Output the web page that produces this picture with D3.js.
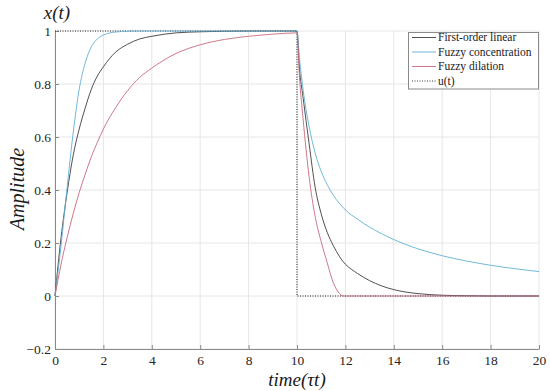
<!DOCTYPE html>
<html>
<head>
<meta charset="utf-8">
<script src="https://cdn.jsdelivr.net/npm/d3@7"></script>
<style>
  body { margin: 0; background: #fff; }
  svg text { font-family: "Liberation Serif", "Times New Roman", Tinos, "DejaVu Serif", "Noto Serif", Times, serif !important; }
</style>
</head>
<body>
<script>
var w = 550;
var h = 391;
var margin = {top: 31, right: 11, bottom: 42, left: 55};

// time samples (rise 0..10, fall 10..20)
var tValues = [0, 0.25, 0.5, 0.75, 1, 1.25, 1.5, 1.75, 2, 2.5, 3, 3.5, 4, 5, 6, 7, 8, 9, 10,
               10.1, 10.25, 10.5, 10.75, 11, 11.25, 11.5, 11.75, 11.9, 12, 12.5, 13, 13.5, 14, 15, 16, 17, 18, 19, 20];

var linearValues = [0, 0.22, 0.39, 0.53, 0.63, 0.71, 0.78, 0.83, 0.865, 0.92, 0.95, 0.97, 0.98, 0.993, 0.997, 0.999, 1, 1, 1,
                    0.86, 0.75, 0.575, 0.41, 0.31, 0.24, 0.19, 0.15, 0.13, 0.12, 0.085, 0.058, 0.038, 0.024, 0.009, 0.003, 0.001, 0, 0, 0];

var concValues = [0, 0.19, 0.41, 0.615, 0.78, 0.88, 0.94, 0.97, 0.985, 0.996, 0.999, 1, 1, 1, 1, 1, 1, 1, 1,
                  0.9, 0.78, 0.64, 0.54, 0.47, 0.42, 0.38, 0.35, 0.335, 0.325, 0.29, 0.26, 0.235, 0.213, 0.178, 0.152, 0.132, 0.116, 0.103, 0.092];

var dilValues = [0, 0.12, 0.22, 0.31, 0.39, 0.46, 0.525, 0.58, 0.63, 0.71, 0.775, 0.825, 0.86, 0.915, 0.948, 0.968, 0.98, 0.988, 0.993,
                 0.83, 0.67, 0.45, 0.3, 0.205, 0.125, 0.05, 0.01, 0, 0, 0, 0, 0, 0, 0, 0, 0, 0, 0, 0];

var stepT = [0, 10, 10, 20];
var stepU = [1, 1, 0, 0];

var xTicks = [0, 2, 4, 6, 8, 10, 12, 14, 16, 18, 20];
var yTicks = [-0.2, 0, 0.2, 0.4, 0.6, 0.8, 1];

var legendNames = ["First-order linear", "Fuzzy concentration", "Fuzzy dilation", "u(t)"];

var colors = ["#3c3c3c", "#62b0d4", "#c8697c", "#222"];
var serif = "'Liberation Serif', 'Times New Roman', Tinos, 'DejaVu Serif', 'Noto Serif', serif";

var xScale = d3.scaleLinear().domain([0, 20]).range([margin.left, w - margin.right]);
var yScale = d3.scaleLinear().domain([-0.2, 1]).range([h - margin.bottom, margin.top]);

var svg = d3.select("body").append("svg")
            .attr("width", w)
            .attr("height", h)
            .attr("font-family", serif);

svg.append("defs").append("clipPath").attr("id", "clip")
   .append("rect")
   .attr("x", margin.left - 1).attr("y", margin.top - 1)
   .attr("width", w - margin.left - margin.right + 2)
   .attr("height", h - margin.top - margin.bottom + 2);

// grid
svg.append("g").selectAll("line").data(xTicks).enter().append("line")
   .attr("x1", function(d) { return xScale(d); })
   .attr("x2", function(d) { return xScale(d); })
   .attr("y1", yScale(-0.2)).attr("y2", yScale(1))
   .attr("stroke", "#e6e6e6").attr("stroke-width", 1);

svg.append("g").selectAll("line").data(yTicks).enter().append("line")
   .attr("y1", function(d) { return yScale(d); })
   .attr("y2", function(d) { return yScale(d); })
   .attr("x1", xScale(0)).attr("x2", xScale(20))
   .attr("stroke", "#e6e6e6").attr("stroke-width", 1);

// axes
var xAxis = d3.axisBottom(xScale).tickValues(xTicks).tickSizeInner(-4).tickSizeOuter(0).tickPadding(6);
var yAxis = d3.axisLeft(yScale).tickValues(yTicks).tickSizeInner(-4).tickSizeOuter(0).tickPadding(4)
              .tickFormat(function(d) { return d === 0 ? "0" : d3.format("")(d).replace("-", "\u2212"); });

var gx = svg.append("g").attr("transform", "translate(0," + yScale(-0.2) + ")").call(xAxis);
var gy = svg.append("g").attr("transform", "translate(" + xScale(0) + ",0)").call(yAxis);

[gx, gy].forEach(function(g) {
  g.attr("font-family", serif).attr("font-size", 13.5);
  g.select(".domain").attr("stroke", "#8a8a8a");
  g.selectAll(".tick line").attr("stroke", "#8a8a8a");
  g.selectAll(".tick text").attr("fill", "#262626");
});

// curves
var line = d3.line()
             .x(function(d) { return xScale(d[0]); })
             .y(function(d) { return yScale(d[1]); })
             .curve(d3.curveMonotoneX);

var series = [linearValues, concValues, dilValues];
var plot = svg.append("g").attr("clip-path", "url(#clip)");

plot.append("path")
    .datum(d3.zip(stepT, stepU))
    .attr("d", d3.line().x(function(d) { return xScale(d[0]); }).y(function(d) { return yScale(d[1]); }))
    .attr("fill", "none").attr("stroke", colors[3])
    .attr("stroke-width", 1).attr("stroke-dasharray", "1,1.5");

series.forEach(function(vals, i) {
  plot.append("path")
      .datum(d3.zip(tValues, vals))
      .attr("d", line)
      .attr("fill", "none")
      .attr("stroke", colors[i])
      .attr("stroke-width", 0.9);
});

// labels
svg.append("text").attr("x", 57).attr("y", 19).attr("text-anchor", "middle")
   .style("font-style", "italic").style("font-size", "19px").attr("fill", "#1a1a1a")
   .text("x(t)");

svg.append("text").attr("transform", "translate(24,189) rotate(-90)").attr("text-anchor", "middle")
   .style("font-style", "italic").style("font-size", "20px").attr("fill", "#1a1a1a")
   .text("Amplitude");

svg.append("text").attr("x", 297).attr("y", 386).attr("text-anchor", "middle")
   .style("font-style", "italic").style("font-size", "19px").attr("fill", "#1a1a1a")
   .text("time(\u03c4t)");

// legend
var lg = svg.append("g");
lg.append("rect").attr("x", 408.5).attr("y", 32.5).attr("width", 130).attr("height", 56.5)
  .attr("fill", "#fff").attr("stroke", "#8a8a8a").attr("stroke-width", 1);

var rowY = [37.5, 52, 66.5, 81];
legendNames.forEach(function(name, i) {
  lg.append("line").attr("x1", 412).attr("x2", 436)
    .attr("y1", rowY[i]).attr("y2", rowY[i])
    .attr("stroke", colors[i]).attr("stroke-width", 0.9)
    .attr("stroke-dasharray", i === 3 ? "1,1.5" : null);
  lg.append("text").attr("x", 438).attr("y", rowY[i] + 3.8)
    .style("font-size", "11.5px").attr("fill", "#1a1a1a")
    .text(name);
});
</script>
</body>
</html>
